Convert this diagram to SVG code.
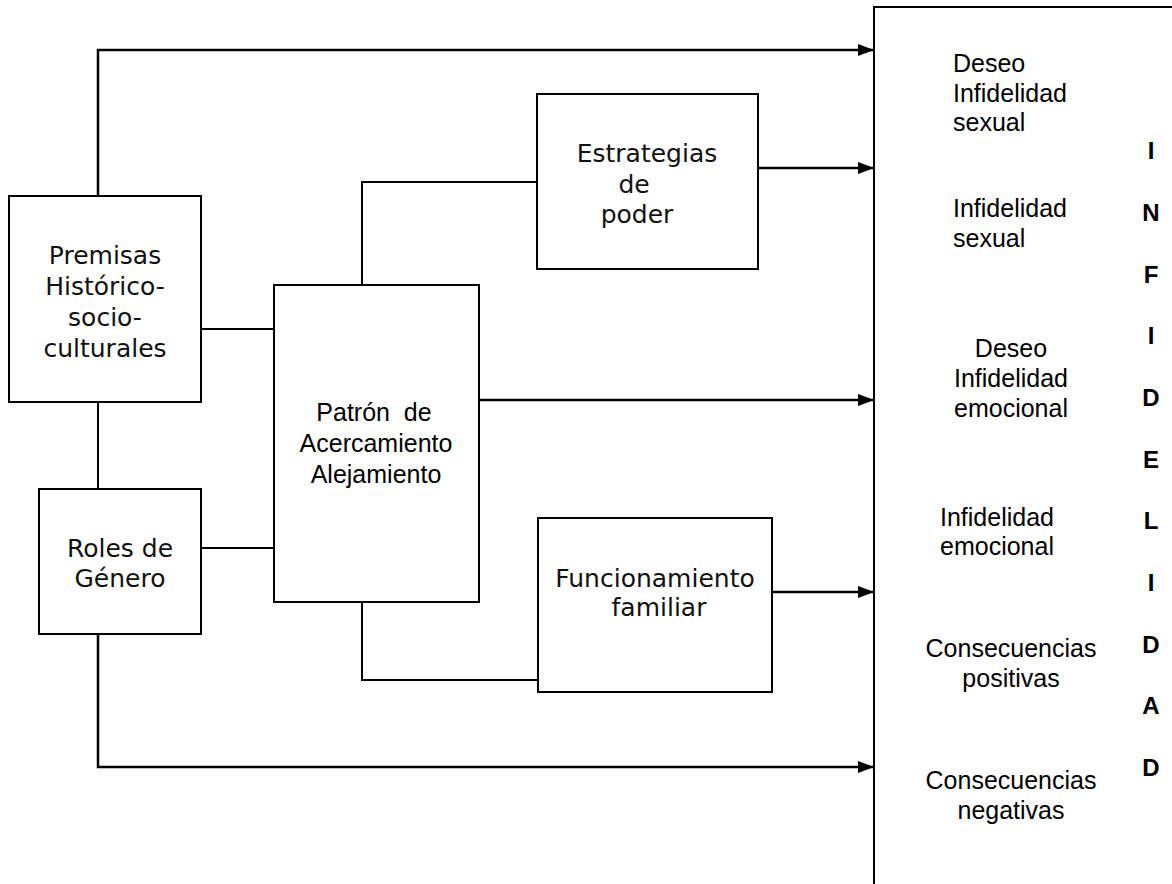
<svg xmlns="http://www.w3.org/2000/svg" width="1172" height="884" viewBox="0 0 1172 884">
  <style>
    .box { fill: #ffffff; stroke: #000000; stroke-width: 2; }
    .link { fill: none; stroke: #000000; stroke-width: 2; }
    .arrow { fill: none; stroke: #000000; stroke-width: 2.5; marker-end: url(#head); }
    .vt { font-family: "DejaVu Sans", Verdana, sans-serif; font-size: 25px; fill: #111111; text-anchor: middle; }
    .at { font-family: "Liberation Sans", Arial, sans-serif; font-size: 25px; fill: #000000; }
    .mid { text-anchor: middle; }
    .big { font-family: "Liberation Sans", Arial, sans-serif; font-size: 24px; font-weight: bold; fill: #000000; text-anchor: middle; }
  </style>
  <defs>
    <marker id="head" markerWidth="16" markerHeight="12" refX="16" refY="6" orient="auto" markerUnits="userSpaceOnUse">
      <path d="M0,0 L16,6 L0,12 Z" fill="#000000"/>
    </marker>
  </defs>

  <rect width="1172" height="884" fill="#ffffff"/>

  <!-- connectors -->
  <g id="connectors">
    <polyline class="arrow" points="98,196 98,50 874,50"/>
    <line class="arrow" x1="758" y1="168" x2="874" y2="168"/>
    <line class="arrow" x1="479" y1="400" x2="874" y2="400"/>
    <line class="arrow" x1="772" y1="592" x2="874" y2="592"/>
    <polyline class="arrow" points="98,634 98,767 874,767"/>
    <line class="link" x1="201" y1="329" x2="274" y2="329"/>
    <line class="link" x1="201" y1="548" x2="274" y2="548"/>
    <line class="link" x1="98" y1="402" x2="98" y2="489"/>
    <polyline class="link" points="362,285 362,182 537,182"/>
    <polyline class="link" points="362,602 362,680 538,680"/>
  </g>

  <!-- Premisas Histórico-socio-culturales -->
  <g id="premisas">
    <rect class="box" x="9" y="196" width="192" height="206"/>
    <text class="vt" x="105" y="264">Premisas</text>
    <text class="vt" x="105" y="295">Histórico-</text>
    <text class="vt" x="105" y="326">socio-</text>
    <text class="vt" x="105" y="357">culturales</text>
  </g>

  <!-- Roles de Género -->
  <g id="roles">
    <rect class="box" x="39" y="489" width="162" height="145"/>
    <text class="vt" x="120" y="557">Roles de</text>
    <text class="vt" x="120" y="587">Género</text>
  </g>

  <!-- Patrón de Acercamiento Alejamiento -->
  <g id="patron">
    <rect class="box" x="274" y="285" width="205" height="317"/>
    <text class="at mid" x="374" y="421" xml:space="preserve">Patrón  de</text>
    <text class="at mid" x="376" y="452">Acercamiento</text>
    <text class="at mid" x="376" y="483">Alejamiento</text>
  </g>

  <!-- Estrategias de poder -->
  <g id="estrategias">
    <rect class="box" x="537" y="94" width="221" height="175"/>
    <text class="vt" x="647" y="162">Estrategias</text>
    <text class="vt" x="634" y="193">de</text>
    <text class="vt" x="637" y="223">poder</text>
  </g>

  <!-- Funcionamiento familiar -->
  <g id="funcionamiento">
    <rect class="box" x="538" y="518" width="234" height="174"/>
    <text class="vt" x="655" y="587">Funcionamiento</text>
    <text class="vt" x="659" y="616">familiar</text>
  </g>

  <!-- Infidelidad panel -->
  <g id="infidelidad">
    <rect class="box" x="874" y="7" width="320" height="900"/>
    <text class="at" x="953" y="72">Deseo</text>
    <text class="at" x="953" y="102">Infidelidad</text>
    <text class="at" x="953" y="131">sexual</text>
    <text class="at" x="953" y="217">Infidelidad</text>
    <text class="at" x="953" y="247">sexual</text>
    <text class="at mid" x="1011" y="357">Deseo</text>
    <text class="at mid" x="1011" y="387">Infidelidad</text>
    <text class="at mid" x="1011" y="417">emocional</text>
    <text class="at mid" x="997" y="526">Infidelidad</text>
    <text class="at mid" x="997" y="555">emocional</text>
    <text class="at mid" x="1011" y="657">Consecuencias</text>
    <text class="at mid" x="1011" y="687">positivas</text>
    <text class="at mid" x="1011" y="789">Consecuencias</text>
    <text class="at mid" x="1011" y="819">negativas</text>
    <text class="big" x="1151" y="159">I</text>
    <text class="big" x="1151" y="221">N</text>
    <text class="big" x="1151" y="283">F</text>
    <text class="big" x="1151" y="344">I</text>
    <text class="big" x="1151" y="406">D</text>
    <text class="big" x="1151" y="468">E</text>
    <text class="big" x="1151" y="529">L</text>
    <text class="big" x="1151" y="591">I</text>
    <text class="big" x="1151" y="653">D</text>
    <text class="big" x="1151" y="714">A</text>
    <text class="big" x="1151" y="776">D</text>
  </g>
</svg>
